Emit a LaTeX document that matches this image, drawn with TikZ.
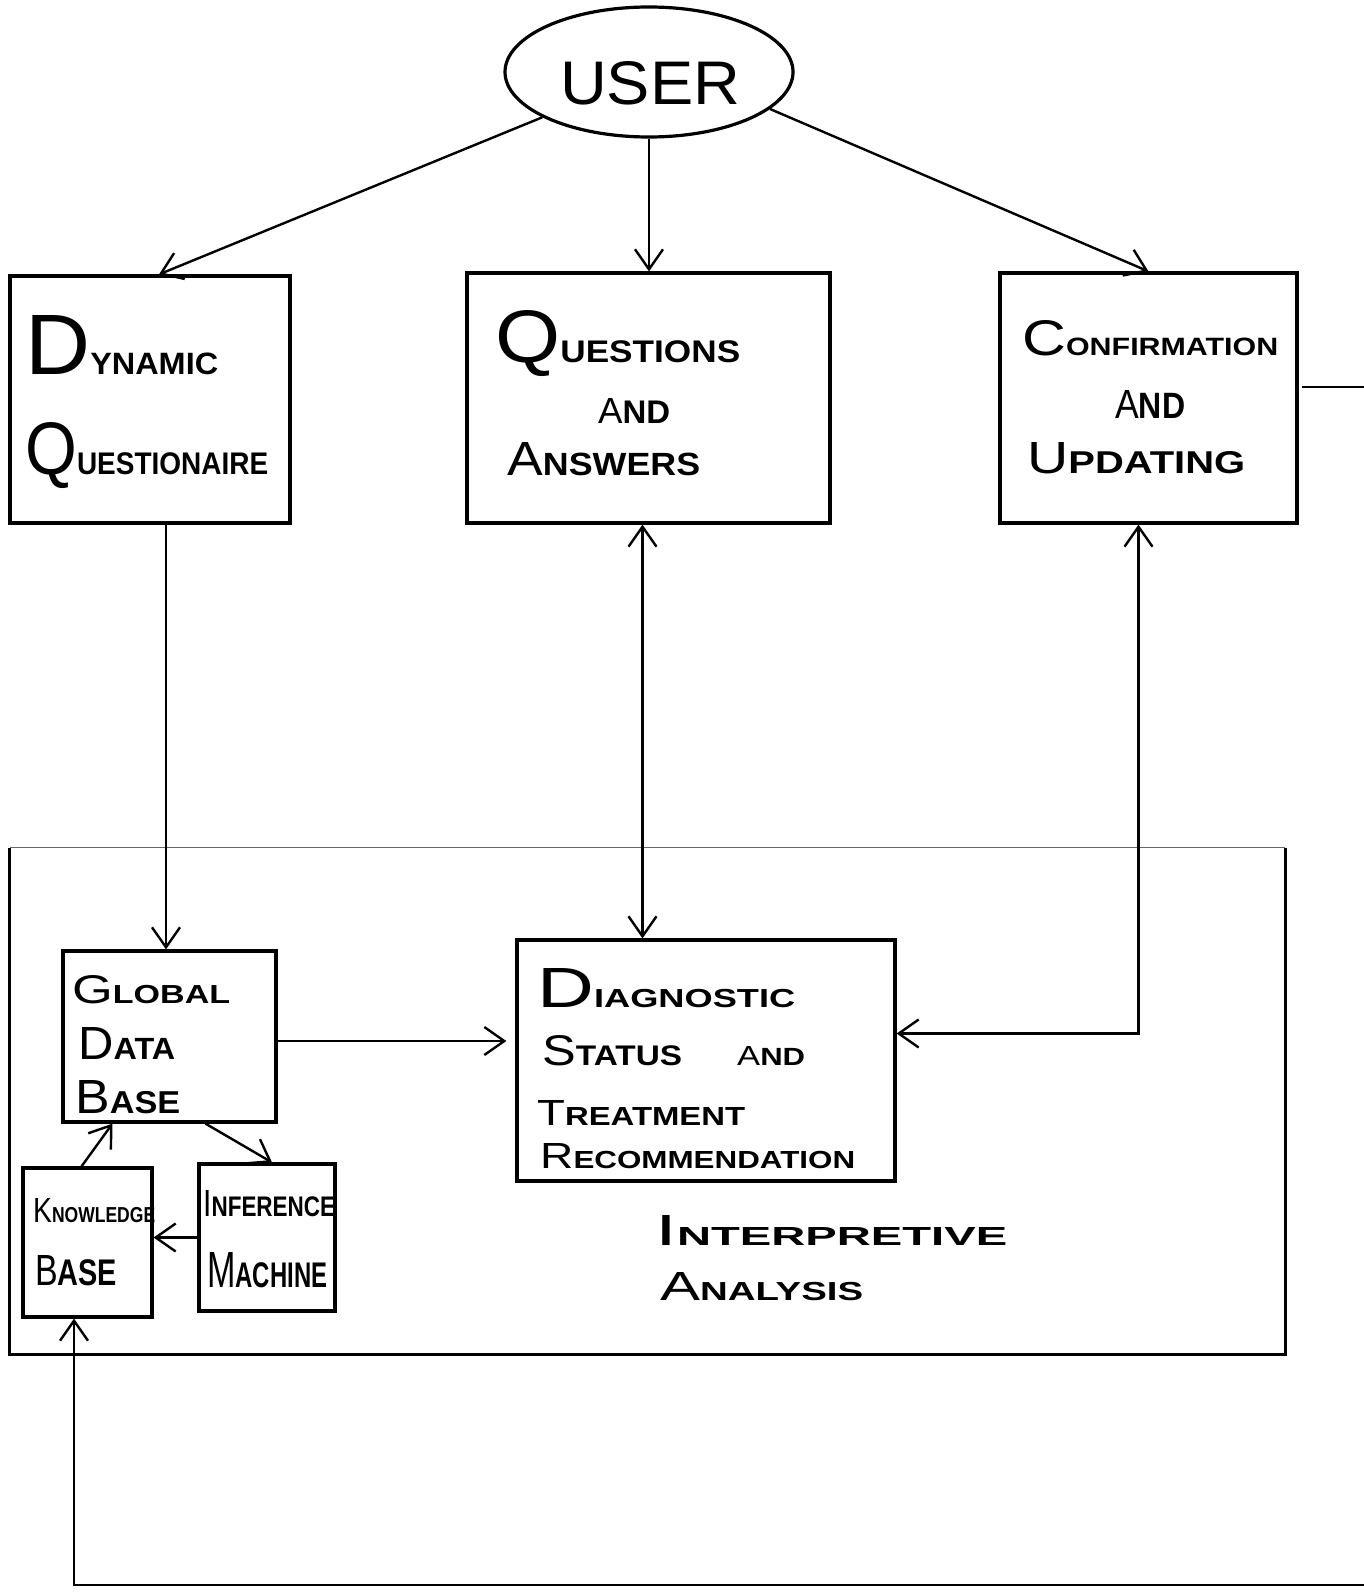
\documentclass[tikz,border=0pt]{standalone}
\usepackage{fontspec}
\setmainfont{Liberation Sans}
\usepackage{graphicx}
\usetikzlibrary{arrows.meta,shapes.geometric}
\newcommand{\hwline}[5]{\resizebox{#1pt}{#2pt}{\fontsize{100}{100}\selectfont #3\fontsize{#5}{#5}\selectfont\bfseries #4}}
\begin{document}
\begin{tikzpicture}[x=1pt,y=-1pt,
  boxnode/.style={draw,line width=3.2pt,rectangle,inner sep=0pt},
  conn/.style={line width=2.4pt},
  >={Straight Barb[length=20pt,width=28pt,line width=2.4pt]},
  txt/.style={anchor=base west,inner sep=0pt}]
\fill[white] (0,0) rectangle (1364,1592);
\useasboundingbox (0,0) rectangle (1364,1592);

% nodes
\node[draw,ellipse,line width=3.2pt,minimum width=288pt,minimum height=130pt,inner sep=0pt] (user) at (649,72) {};
\node[boxnode,minimum width=280pt,minimum height=247pt] (dq) at (150,399.5) {};
\node[boxnode,minimum width=363pt,minimum height=250pt] (qa) at (648.5,398) {};
\node[boxnode,minimum width=297pt,minimum height=250pt] (cu) at (1148.5,398) {};
\node[inner sep=0pt,minimum width=1275pt,minimum height=506pt] (ia) at (647.5,1101) {};
\node[boxnode,minimum width=213pt,minimum height=171pt] (gdb) at (169.5,1036.5) {};
\node[boxnode,minimum width=378pt,minimum height=241pt] (dst) at (706,1060.5) {};
\node[boxnode,minimum width=129pt,minimum height=149pt] (kb) at (87.5,1242.5) {};
\node[boxnode,minimum width=136pt,minimum height=147pt] (im) at (267,1237.5) {};

% outer box edges
\draw[line width=3.2pt] (ia.north west) -- (ia.south west) -- (ia.south east) -- (ia.north east);
\draw[line width=1.2pt,black!60] (ia.north west) -- (ia.north east);

% texts
\node[txt] (tuser) at (560,105) {\hwline{180}{43}{USER}{}{100}};
\node[txt] (tdq1) at (25,374) {\hwline{193}{59}{D}{YNAMIC}{36}};
\node[txt] (tdq2) at (25,474) {\hwline{243}{52}{Q}{UESTIONAIRE}{42}};
\node[txt] (tqa1) at (495,362) {\hwline{245}{52}{Q}{UESTIONS}{42}};
\node[txt] (tqa2) at (598,423) {\hwline{72}{25}{A}{ND}{90}};
\node[txt] (tqa3) at (507,475) {\hwline{193}{33}{A}{NSWERS}{67}};
\node[txt] (tcu1) at (1022,355) {\hwline{256}{35}{C}{ONFIRMATION}{50}};
\node[txt] (tcu2) at (1115,418) {\hwline{70}{28}{A}{ND}{90}};
\node[txt] (tcu3) at (1027,473) {\hwline{218}{31}{U}{PDATING}{70}};
\node[txt] (tg1) at (72,1003) {\hwline{158}{28}{G}{LOBAL}{65}};
\node[txt] (tg2) at (78,1059) {\hwline{97}{32}{D}{ATA}{66}};
\node[txt] (tg3) at (75,1113) {\hwline{105}{33}{B}{ASE}{66}};
\node[txt] (td1) at (537,1007) {\hwline{258}{39}{D}{IAGNOSTIC}{46}};
\node[txt] (td2) at (542,1065) {\hwline{140}{30}{S}{TATUS}{66}};
\node[txt] (td3) at (737,1065) {\hwline{68}{19}{A}{ND}{90}};
\node[txt] (td4) at (537,1125) {\hwline{208}{25}{T}{REATMENT}{72}};
\node[txt] (td5) at (540,1168) {\hwline{315}{25}{R}{ECOMMENDATION}{68}};
\node[txt] (ti1) at (655,1245) {\hwline{352}{30}{I}{NTERPRETIVE}{60}};
\node[txt] (ti2) at (660,1300) {\hwline{203}{28}{A}{NALYSIS}{64}};
\node[txt] (tk1) at (33,1222) {\hwline{122}{24}{K}{NOWLEDGE}{62}};
\node[txt] (tk2) at (35,1285) {\hwline{82}{30}{B}{ASE}{85}};
\node[txt] (tm1) at (203,1216) {\hwline{132}{26}{I}{NFERENCE}{75}};
\node[txt] (tm2) at (207,1287) {\hwline{120}{35}{M}{ACHINE}{70}};

% helper coordinates
\coordinate (a1) at ([xshift=-3.5pt]gdb.north);
\coordinate (a2) at ([xshift=-6pt]qa.south);
\coordinate (a3) at ([xshift=-10pt]cu.south);
\coordinate (a4) at ([yshift=27pt]dst.east);
\coordinate (a5) at ([yshift=-4.5pt]gdb.east);
\coordinate (a6) at ([xshift=-13.5pt]kb.south);
\coordinate (rs) at (1364,387);
\coordinate (rb) at (1364,1585);

% connectors
\draw[conn,->] (user.203) -- ([xshift=9pt]dq.north);
\draw[conn,->] (user.south) -- (user.south |- qa.north);
\draw[conn,->] (user.-17) -- (cu.north);
\draw[conn,->] (a1 |- dq.south) -- (a1);
\draw[conn,<->] (a2) -- (a2 |- dst.north);
\draw[conn,<->] (a3) |- (a4);
\draw[conn,->,shorten >=9pt] (a5) -- (a5 -| dst.west);
\draw[conn,->] ([xshift=36pt]gdb.south) -- ([xshift=5pt]im.north);
\draw[conn,->] ([xshift=-6pt]kb.north) -- ([xshift=-57pt]gdb.south);
\draw[conn,->] (im.west) -- (im.west -| kb.east);
\draw[conn] ([yshift=11pt,xshift=3pt]cu.east) -- (rs);
\draw[conn,->] (rb) -| (a6);
\end{tikzpicture}
\end{document}
